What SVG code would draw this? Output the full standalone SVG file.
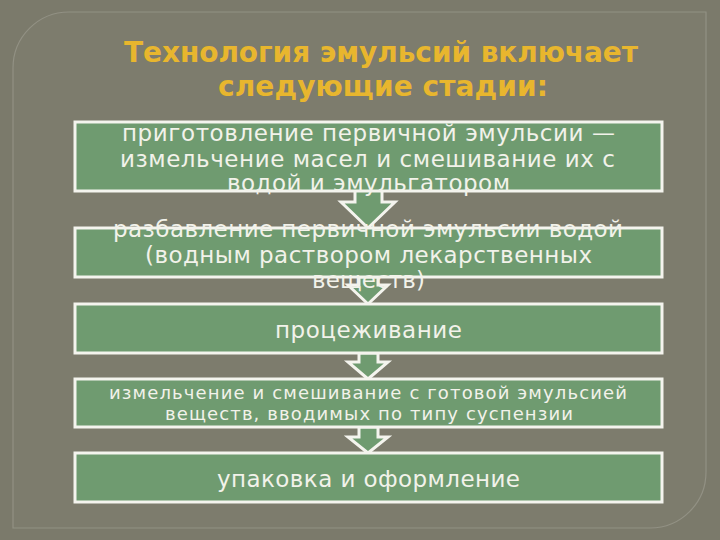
<svg xmlns="http://www.w3.org/2000/svg" width="720" height="540" viewBox="0 0 720 540">
<style>
.box{fill:#6f9b70;stroke:#f4f4ee;stroke-width:3}
.arr{fill:#6f9b70;stroke:#f4f4ee;stroke-width:3;stroke-linejoin:miter}
.t{font-family:"DejaVu Sans",sans-serif;fill:#f2f2ea;font-size:23px}
.s{font-size:18px}
.title{font-family:"DejaVu Sans",sans-serif;font-weight:bold;fill:#e8b62e;font-size:28px}
</style>
<rect x="0" y="0" width="720" height="540" fill="#7b7a6b"/>
<path d="M13,68 A56,56 0 0 1 69,12 L706,12 L706,472 A56,56 0 0 1 650,528 L13,528 Z" fill="#7d7c6d" stroke="#929184" stroke-width="1.2"/>
<g id="title">
<text class="title" x="124" y="62" textLength="514" lengthAdjust="spacing">Технология эмульсий включает</text>
<text class="title" x="218" y="96" textLength="330" lengthAdjust="spacing">следующие стадии:</text>
</g>
<g id="connectors">
<path class="arr" d="M355,190 L382,190 L382,202 L395,202 L368,228 L341,202 L355,202 Z"/>
<path class="arr" d="M359,277 L378,277 L378,285 L388,285 L368,304 L348,285 L359,285 Z"/>
<path class="arr" d="M359,353 L378,353 L378,362 L388,362 L368,379 L348,362 L359,362 Z"/>
<path class="arr" d="M359,427 L378,427 L378,437 L388,437 L368,453 L348,437 L359,437 Z"/>
</g>
<g id="n1">
<rect class="box" x="75" y="122" width="587" height="69"/>
</g>
<g id="n2">
<rect class="box" x="75" y="228" width="587" height="49"/>
</g>
<g id="n3">
<rect class="box" x="75" y="304" width="587" height="49"/>
<text class="t" x="275" y="338" textLength="187" lengthAdjust="spacing">процеживание</text>
</g>
<g id="n4">
<rect class="box" x="75" y="379" width="587" height="48"/>
<text class="t s" x="109" y="399" textLength="518" lengthAdjust="spacing">измельчение и смешивание с готовой эмульсией</text>
<text class="t s" x="165" y="420" textLength="408" lengthAdjust="spacing">веществ, вводимых по типу суспензии</text>
</g>
<g id="n5">
<rect class="box" x="75" y="453" width="587" height="49"/>
<text class="t" x="217" y="487" textLength="303" lengthAdjust="spacing">упаковка и оформление</text>
</g>
<g id="n1text">
<text class="t" x="122" y="141" textLength="493" lengthAdjust="spacing">приготовление первичной эмульсии —</text>
<text class="t" x="120" y="167" textLength="495" lengthAdjust="spacing">измельчение масел и смешивание их с</text>
<text class="t" x="227" y="191" textLength="283" lengthAdjust="spacing">водой и эмульгатором</text>
</g>
<g id="n2text">
<text class="t" x="113" y="237" textLength="510" lengthAdjust="spacing">разбавление первичной эмульсии водой</text>
<text class="t" x="145" y="263" textLength="447" lengthAdjust="spacing">(водным раствором лекарственных</text>
<text class="t" x="312" y="288" textLength="113" lengthAdjust="spacing">веществ)</text>
</g>
</svg>
